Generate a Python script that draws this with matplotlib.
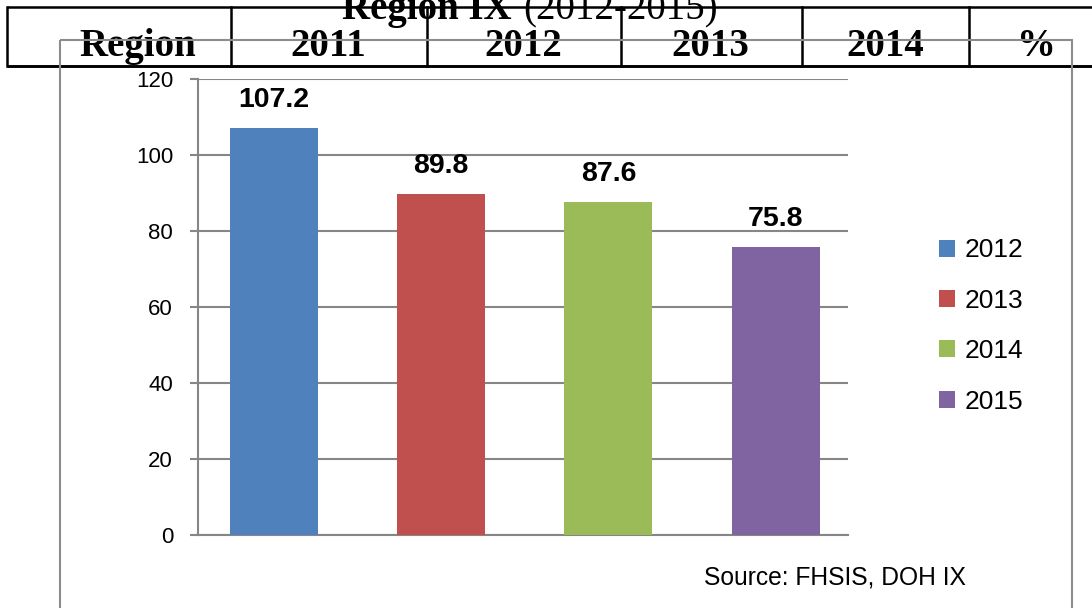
#!/usr/bin/env python3
"""Region IX bar chart (2012-2015) with document table header above it."""

import matplotlib
matplotlib.use('Agg')
import matplotlib.pyplot as plt
from matplotlib.patches import Rectangle

plt.rcParams['font.family'] = ['Liberation Sans', 'DejaVu Sans']

# ── data ────────────────────────────────────────────
years = ['2012', '2013', '2014', '2015']
values = [107.2, 89.8, 87.6, 75.8]
colors = ['#4F81BD', '#C0504D', '#9BBB59', '#8064A2']
yticks = [0, 20, 40, 60, 80, 100, 120]

header_labels = ['Region', '2011', '2012', '2013', '2014', '%']
header_centers = [138, 328, 523, 710, 885, 1036]
header_cols = [7, 231, 427, 621, 802, 969]

W, H = 1092, 608
GRID = '#868686'

fig = plt.figure(figsize=(W / 100, H / 100), dpi=100)
fig.patch.set_facecolor('white')

# ── page layer (pixel coords) : table header + chart border ──
page = fig.add_axes([0, 0, 1, 1])
page.set_xlim(0, W)
page.set_ylim(H, 0)
page.axis('off')

serif = ['Liberation Serif', 'DejaVu Serif']
page.text(512, 19, 'Region IX', family=serif, fontsize=28,
          fontweight='bold', ha='right', va='baseline', color='black')
page.text(523, 19, '(2012-2015)', family=serif, fontsize=28,
          ha='left', va='baseline', color='black')

lw_tab = 1.8
page.plot([7, W], [7, 7], color='black', lw=lw_tab, solid_capstyle='butt')
page.plot([7, W], [66, 66], color='black', lw=lw_tab + 0.3,
          solid_capstyle='butt')
for x in header_cols:
    page.plot([x, x], [7, 66], color='black', lw=lw_tab)
for lab, cx in zip(header_labels, header_centers):
    page.text(cx, 56, lab, family=serif, fontsize=28, fontweight='bold',
              ha='center', va='baseline', color='black')

page.add_patch(Rectangle((60, 40), 1072 - 60, H + 20 - 40, fill=False,
                         ec='#8C8C8C', lw=1.5, zorder=5))

# ── chart ───────────────────────────────────────────
ax = fig.add_axes([198 / W, 73 / H, 650 / W, 456 / H])
ax.set_facecolor('none')

for i, (yr, v, c) in enumerate(zip(years, values, colors)):
    ax.bar(i, v, width=0.526, color=c, label=yr, zorder=3)
    ax.annotate(f'{v}', xy=(i, v), xytext=(0, 15),
                textcoords='offset points', ha='center', va='baseline',
                fontsize=20.5, fontweight='bold', color='black')

ax.set_xlim(-0.4545, 3.433)
ax.set_ylim(0, 120)
ax.set_yticks(yticks)
ax.set_xticks([])
ax.yaxis.grid(True, color=GRID, lw=1.5)
ax.set_axisbelow(True)
ax.tick_params(axis='y', direction='out', length=6, width=1.5,
               color=GRID, pad=12, labelsize=16, labelcolor='black')
for side in ['top', 'right']:
    ax.spines[side].set_visible(False)
for side in ['left', 'bottom']:
    ax.spines[side].set_color(GRID)
    ax.spines[side].set_linewidth(1.5)

fig.legend(loc='center left', bbox_to_anchor=(939 / W, 1 - 326 / H),
           bbox_transform=fig.transFigure, frameon=False, fontsize=19,
           handlelength=0.62, handleheight=0.62, handletextpad=0.35,
           labelspacing=1.0, borderpad=0, borderaxespad=0)

fig.text(704 / W, 1 - 577 / H, 'Source: FHSIS, DOH IX', fontsize=17.7,
         ha='left', va='center', color='black')

fig.savefig('out.png', dpi=100, facecolor='white')
plt.close(fig)
